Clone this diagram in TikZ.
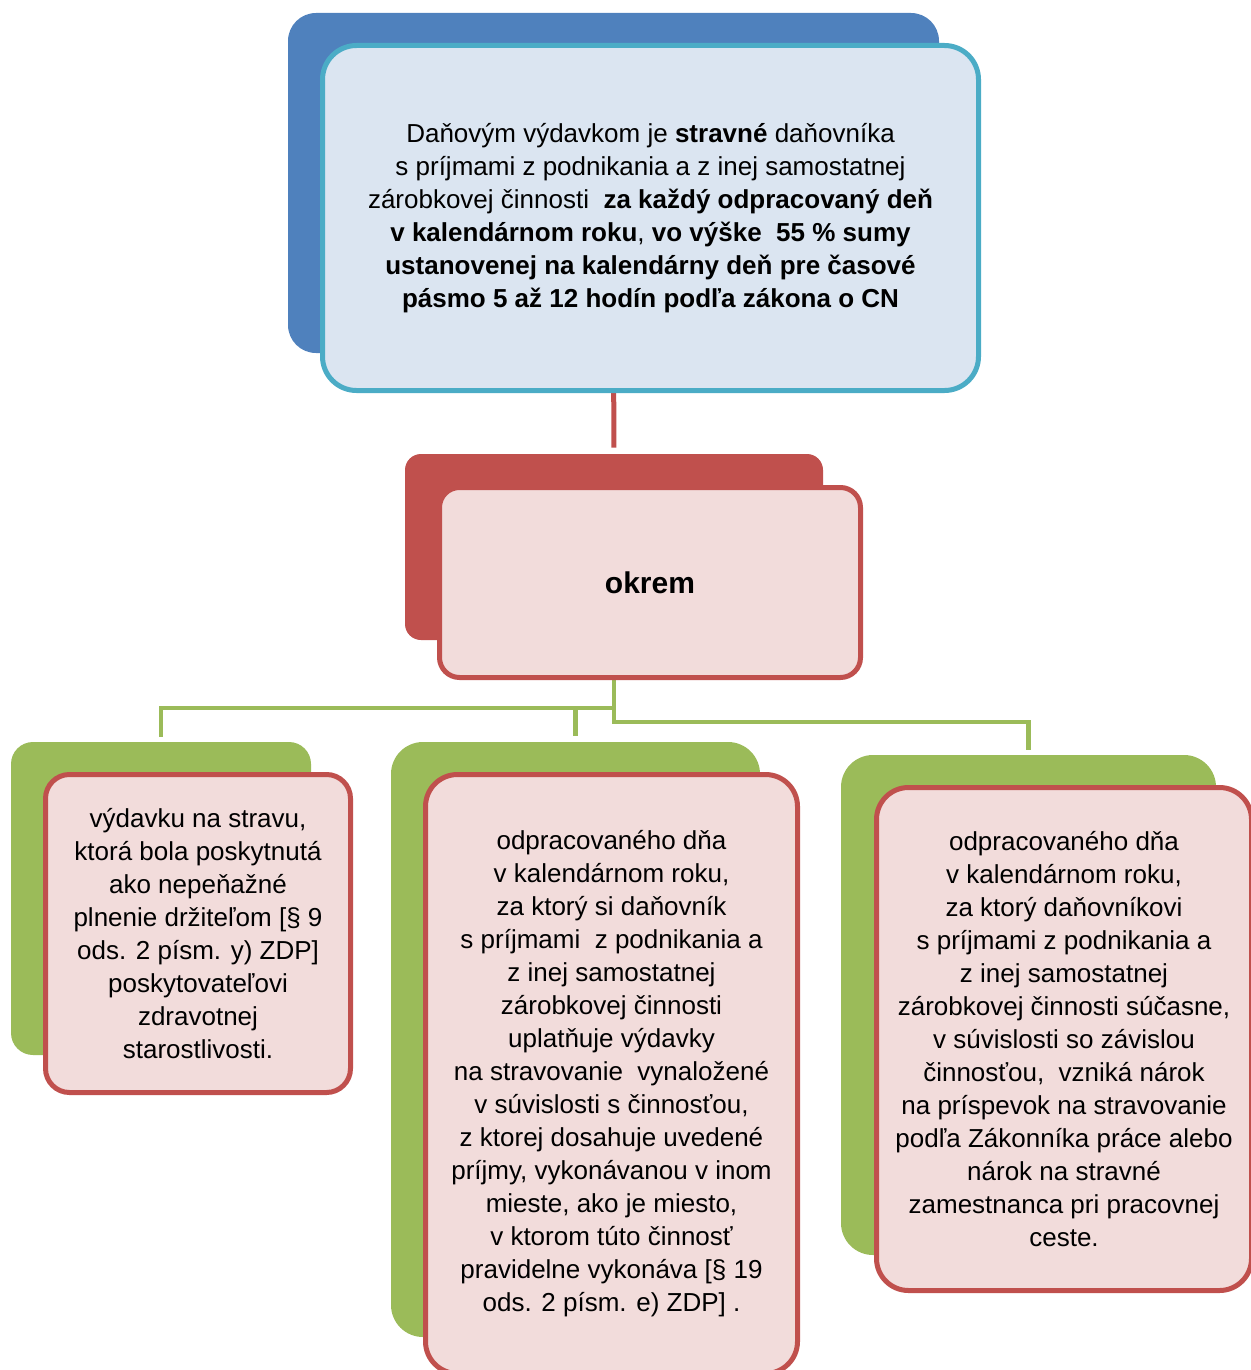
\documentclass[tikz,border=0pt]{standalone}
\usepackage{fontspec}
\setmainfont{Liberation Sans}
\usetikzlibrary{calc}
\pgfdeclarelayer{bg}
\pgfsetlayers{bg,main}
\definecolor{cblue}{HTML}{4F81BD}
\definecolor{cteal}{HTML}{4BACC6}
\definecolor{cpale}{HTML}{DBE5F1}
\definecolor{cred}{HTML}{C0504D}
\definecolor{cpink}{HTML}{F2DCDB}
\definecolor{cgreen}{HTML}{9BBB59}
\tikzset{
  backbox/.style={rectangle, inner sep=0pt, draw=none},
  frontbox/.style={rectangle, inner sep=0pt, line width=2.5pt, align=center,
    font=\fontsize{13}{16.5}\selectfont, text=black},
  redline/.style={draw=cred, line width=2.5pt},
  gline/.style={draw=cgreen, line width=2.2pt},
}
\begin{document}
\begin{tikzpicture}[x=0.5pt,y=-0.5pt]
\useasboundingbox (0,0) rectangle (1250,1370);
% top
\node[backbox, fill=cblue, minimum width=325.5pt, minimum height=170pt, rounded corners=14pt] (topback) at (613.5,183) {};
\node[frontbox, draw=cteal, fill=cpale, minimum width=328pt, minimum height=172.5pt, rounded corners=17pt] (topfront) at (650.5,218)
{Daňovým výdavkom je \textbf{stravné} daňovníka\\
s príjmami z podnikania a z inej samostatnej\\
zárobkovej činnosti\ \ \textbf{za každý odpracovaný deň}\\
\textbf{v kalendárnom roku}, \textbf{vo výške\ \ 55 \% sumy}\\
\textbf{ustanovenej na kalendárny deň pre časové}\\
\textbf{pásmo 5 až 12 hodín podľa zákona o CN}};
% okrem
\node[backbox, fill=cred, minimum width=209pt, minimum height=93pt, rounded corners=8pt] (okremback) at (614,547) {};
\node[frontbox, draw=cred, fill=cpink, minimum width=210.5pt, minimum height=95pt, rounded corners=10pt,
  font=\fontsize{15}{18}\selectfont\bfseries] (okremfront) at (650,582.5) {okrem};
% left
\node[backbox, fill=cgreen, minimum width=150pt, minimum height=156.5pt, rounded corners=11pt] (leftback) at (161,898.5) {};
\node[frontbox, draw=cred, fill=cpink, minimum width=152.5pt, minimum height=159pt, rounded corners=12pt] (leftfront) at (198,933.5)
{výdavku na stravu,\\
ktorá bola poskytnutá\\
ako nepeňažné\\
plnenie držiteľom [§ 9\\
ods. 2 písm. y) ZDP]\\
poskytovateľovi\\
zdravotnej\\
starostlivosti.};
% middle
\node[backbox, fill=cgreen, minimum width=184.5pt, minimum height=297.5pt, rounded corners=16pt] (midback) at (575.5,1039.5) {};
\node[frontbox, draw=cred, fill=cpink, minimum width=186pt, minimum height=299.5pt, rounded corners=16pt] (midfront) at (611.5,1074)
{odpracovaného dňa\\
v kalendárnom roku,\\
za ktorý si daňovník\\
s príjmami\ \ z podnikania a\\
z inej samostatnej\\
zárobkovej činnosti\\
uplatňuje výdavky\\
na stravovanie\ \ vynaložené\\
v súvislosti s činnosťou,\\
z ktorej dosahuje uvedené\\
príjmy, vykonávanou v inom\\
mieste, ako je miesto,\\
v ktorom túto činnosť\\
pravidelne vykonáva [§ 19\\
ods. 2 písm. e) ZDP] .};
% right
\node[backbox, fill=cgreen, minimum width=187.5pt, minimum height=250pt, rounded corners=16pt] (rightback) at (1028.5,1005) {};
\node[frontbox, draw=cred, fill=cpink, minimum width=187.5pt, minimum height=251.5pt, rounded corners=16pt] (rightfront) at (1064,1039)
{odpracovaného dňa\\
v kalendárnom roku,\\
za ktorý daňovníkovi\\
s príjmami z podnikania a\\
z inej samostatnej\\
zárobkovej činnosti súčasne,\\
v súvislosti so závislou\\
činnosťou,\ \ vzniká nárok\\
na príspevok na stravovanie\\
podľa Zákonníka práce alebo\\
nárok na stravné\\
zamestnanca pri pracovnej\\
ceste.};
% connectors
\coordinate (j1) at (614,708);
\coordinate (j2) at (614,722);
\begin{pgfonlayer}{bg}
\draw[redline, shorten >=3pt] (topback.south) -- (okremback.north);
\draw[gline, shorten >=2.5pt] (okremback.south) -- (j1) -| (leftback.north);
\draw[gline, shorten >=3pt] (j1 -| midback.north) -- (midback.north);
\draw[gline, shorten >=2.5pt] (okremback.south) -- (j2) -| (rightback.north);
\end{pgfonlayer}
\end{tikzpicture}
\end{document}
